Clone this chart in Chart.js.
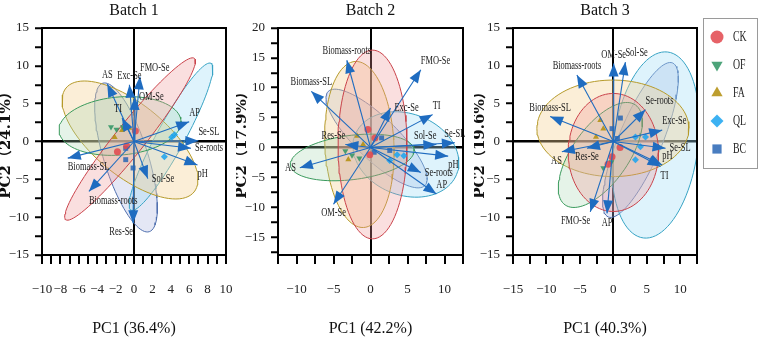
<!DOCTYPE html>
<html>
<head>
<meta charset="utf-8">
<script src="https://cdn.jsdelivr.net/npm/chart.js@4.4.1/dist/chart.umd.min.js"></script>
<style>
  body { margin: 0; background: #fff; }
  .wrap { position: relative; width: 760px; height: 338px; overflow: hidden; }
  canvas { position: absolute; top: 0; }
</style>
</head>
<body>
<div class="wrap">
  <canvas id="batch1" width="240" height="338" style="left:0px"></canvas>
  <canvas id="batch2" width="241" height="338" style="left:236px"></canvas>
  <canvas id="batch3" width="286" height="338" style="left:474px"></canvas>
</div>
<script>
const groups = ['CK', 'OF', 'FA', 'QL', 'BC'];

// Batch 1 - loadings (arrow tips)
const b1Vars = ['FMO-Se', 'Exc-Se', 'AS', 'OM-Se', 'TI', 'AP', 'Se-SL', 'Se-roots', 'pH', 'Sol-Se', 'Biomass-SL', 'Biomass-roots', 'Res-Se'];
const b1VarX = [0.65, -0.5, -2.9, 0.1, -1.3, 6.0, 7.0, 6.2, 6.9, 1.5, -7.2, -4.9, -0.1];
const b1VarY = [8.6, 7.5, 7.6, 5.9, 3.1, 2.6, 0.1, -0.9, -3.1, -4.9, -2.2, -6.6, -10.8];
const b1LabelPos = ['ne', 'n', 'n', 'e', 'nw', 'ne', 'ne', 'e', 'se', 'e', 'se', 'se', 'sw'];
// Batch 1 - sample scores, one list per group (CK, OF, FA, QL, BC)
const b1Scores = [
  [[0.15, 1.4], [-1.8, -1.35], [-0.8, -0.6]],
  [[-2.5, 1.9], [-1.9, 1.6], [-1.2, 1.9]],
  [[-1.3, 1.5], [-2.1, 0.55], [-0.5, 1.8]],
  [[4.4, 0.9], [4.1, 0.55], [3.3, -2.0]],
  [[-0.9, -0.9], [-0.9, -2.4], [-0.1, -3.5]]
];
// Batch 1 - group ellipses: centre x, centre y, half axis u (x, y), half axis v (x, y)
const b1Ellipses = [
  [-0.43, 0.33, 6.99, 10.66, 1.27, -1.23],
  [-1.52, 2.05, 6.63, 0.66, 0.22, -3.83],
  [-0.43, 0.2, 6.96, -6.87, 2.47, 3.69],
  [4.02, 0.63, 4.35, 9.70, 1.34, -0.89],
  [-0.87, -2.11, -2.53, 9.81, 2.28, 0.87]
];

// Batch 2
const b2Vars = ['Biomass-roots', 'Biomass-SL', 'FMO-Se', 'Exc-Se', 'TI', 'Sol-Se', 'Se-SL', 'pH', 'Se-roots', 'AP', 'AS', 'OM-Se', 'Res-Se'];
const b2VarX = [-3.2, -8.0, 6.8, 2.7, 8.4, 8.9, 11.4, 10.5, 6.8, 8.9, -9.55, -5.0, -3.4];
const b2VarY = [14.6, 9.4, 13.0, 6.6, 5.5, 0.5, 0.8, -1.45, -4.2, -7.8, -3.4, -9.5, 0.5];
const b2LabelPos = ['n', 'n', 'ne', 'e', 'ne', 'nw', 'n', 'se', 'e', 'ne', 'w', 's', 'nw'];
const b2Scores = [
  [[-0.35, 3.0], [0.6, 1.6], [-0.1, -1.2]],
  [[-2.5, -1.3], [-3.4, -0.6], [-1.5, -1.8]],
  [[-1.8, 1.9], [-3.0, -2.0], [-1.0, 0.5]],
  [[3.6, -1.2], [4.5, -1.4], [2.6, -2.2]],
  [[1.5, 1.6], [2.6, -0.5], [0.5, -0.8]]
];
const b2Ellipses = [
  [0.27, 0.5, 0, 15.8, 4.66, 0],
  [-2.47, -1.67, 8.36, 1.33, 0.41, -3.67],
  [-1.5, 0.5, -0.55, 13.9, 4.66, 0.27],
  [4.79, -1.17, 6.85, -3.33, -2.05, -6.33],
  [0.82, 1.5, -6.53, 7.88, 2.03, 2.48]
];

// Batch 3
const b3Vars = ['OM-Se', 'Sol-Se', 'Biomass-roots', 'Biomass-SL', 'Se-roots', 'Exc-Se', 'Se-SL', 'pH', 'TI', 'AS', 'Res-Se', 'FMO-Se', 'AP'];
const b3VarX = [0.05, 1.8, -5.45, -9.45, 4.8, 7.3, 7.8, 7.3, 7.05, -7.7, -3.95, -3.45, -0.95];
const b3VarY = [10.3, 10.5, 8.8, 3.3, 4.2, 1.5, -0.9, -3.1, -3.3, -1.35, -0.9, -9.3, -9.5];
const b3LabelPos = ['n', 'ne', 'n', 'n', 'ne', 'ne', 'e', 'ne', 'se', 'sw', 's', 'sw', 's'];
const b3Scores = [
  [[-0.2, -2.0], [-0.8, -3.0], [1.0, -0.8]],
  [[-2.5, -0.5], [-1.5, -3.5], [-0.3, -2.7]],
  [[-1.95, 2.8], [-1.5, 1.7], [-2.6, 0.6]],
  [[3.3, 0.6], [4.8, 0.6], [4.05, -0.7], [3.3, -2.4]],
  [[1.05, 3.1], [-0.2, 1.7], [0.6, 0.4]]
];
const b3Ellipses = [
  [0, -1.45, 6.75, 0, 0, -7.8],
  [-1.95, -1.78, 5.25, 6.61, 3.45, -2.11],
  [-0.07, 1.74, 11.36, 0, 0, -6.38],
  [6.3, -0.46, 1.8, 12.29, 6.3, -0.66],
  [4.05, 0.2, 4.8, 10.18, 3.0, -1.11]
];

const markerColors = ['rgba(226,70,76,0.85)', 'rgba(46,148,99,0.85)', 'rgba(178,141,11,0.85)', 'rgba(26,163,240,0.85)', 'rgba(41,102,181,0.85)'];
const ellipseLines = ['#c9424a', '#3a9a5c', '#b59a2a', '#37a3c4', '#4f6fae'];
const ellipseFills = ['rgba(240,150,150,0.3)', 'rgba(170,215,180,0.3)', 'rgba(245,210,150,0.38)', 'rgba(160,220,245,0.35)', 'rgba(170,180,225,0.32)'];
const pointStyles = ['circle', 'triangle', 'triangle', 'rectRot', 'rect'];
const pointRot = [0, 180, 0, 0, 0];
const arrowColor = '#1f6cc0';
const serif = '"Liberation Serif", "Times New Roman", serif';
const squeeze = 0.7; // the source figure's lettering is horizontally condensed

function ellipsePoints(e) {
  const pts = [];
  for (let k = 0; k <= 90; k++) {
    const t = k / 90 * 2 * Math.PI;
    pts.push({ x: e[0] + e[2] * Math.cos(t) + e[4] * Math.sin(t), y: e[1] + e[3] * Math.cos(t) + e[5] * Math.sin(t) });
  }
  return pts;
}

function tickText(every) {
  return v => {
    if (Math.abs(v / every - Math.round(v / every)) > 1e-6) return '';
    return v < 0 ? '\u2212' + Math.abs(v) : String(v);
  };
}

function gridOpts(len, zeroWidth) {
  return {
    color: c => (c.tick && c.tick.value === 0 ? '#000' : 'rgba(0,0,0,0)'),
    lineWidth: zeroWidth,
    drawTicks: true,
    tickLength: len,
    tickColor: '#000',
    tickWidth: 2
  };
}

function narrowText(ctx, text, x, y) {
  ctx.save();
  ctx.translate(x, y);
  ctx.scale(squeeze, 1);
  ctx.fillText(text, 0, 0);
  ctx.restore();
}

function overlay(opt) {
  return {
    id: 'overlay',
    afterDatasetsDraw(chart) {
      const { ctx, chartArea: a, scales: { x, y } } = chart;
      ctx.save();
      ctx.strokeStyle = '#000';
      ctx.lineWidth = 2;
      ctx.beginPath();
      ctx.moveTo(a.left, a.top);
      ctx.lineTo(a.right, a.top);
      ctx.lineTo(a.right, a.bottom);
      ctx.stroke();

      const ox = x.getPixelForValue(0), oy = y.getPixelForValue(0);
      ctx.fillStyle = arrowColor;
      opt.vars.forEach((name, i) => {
        const tx = x.getPixelForValue(opt.vx[i]), ty = y.getPixelForValue(opt.vy[i]);
        const len = Math.hypot(tx - ox, ty - oy);
        const dx = (tx - ox) / len, dy = (ty - oy) / len;
        ctx.beginPath();
        ctx.moveTo(tx, ty);
        ctx.lineTo(tx - dx * 13 - dy * 5, ty - dy * 13 + dx * 5);
        ctx.lineTo(tx - dx * 13 + dy * 5, ty - dy * 13 - dx * 5);
        ctx.closePath();
        ctx.fill();
      });

      ctx.fillStyle = '#1a1a1a';
      ctx.font = '12px ' + serif;
      opt.vars.forEach((name, i) => {
        let lx = x.getPixelForValue(opt.vx[i]), ly = y.getPixelForValue(opt.vy[i]);
        const pos = opt.labelPos[i];
        ctx.textAlign = pos.includes('e') ? 'left' : pos.includes('w') ? 'right' : 'center';
        ctx.textBaseline = pos.includes('n') ? 'bottom' : pos.includes('s') ? 'top' : 'middle';
        if (pos === 'e') lx += 4;
        if (pos === 'w') lx -= 4;
        if (pos.includes('n')) ly -= 3;
        if (pos.includes('s')) ly += 3;
        narrowText(ctx, name, lx, ly);
      });

      if (opt.legend) {
        ctx.strokeStyle = '#9a9a9a';
        ctx.lineWidth = 1;
        ctx.strokeRect(229.5, 18.5, 54, 150);
        groups.forEach((g, k) => {
          const cy = 37 + k * 28;
          ctx.fillStyle = markerColors[k];
          Chart.helpers.drawPoint(ctx, { pointStyle: pointStyles[k], rotation: pointRot[k], radius: 6.5, borderWidth: 0 }, 243, cy);
          ctx.fillStyle = '#222';
          ctx.font = '14px ' + serif;
          ctx.textAlign = 'left';
          ctx.textBaseline = 'middle';
          narrowText(ctx, g, 259, cy);
        });
      }
      ctx.restore();
    }
  };
}

function drawBiplot(opt) {
  const datasets = [];
  opt.vars.forEach((name, i) => {
    datasets.push({
      label: name,
      data: [{ x: 0, y: 0 }, { x: opt.vx[i], y: opt.vy[i] }],
      showLine: true, borderColor: arrowColor, borderWidth: 1.1, pointRadius: 0, order: 0
    });
  });
  groups.forEach((g, k) => {
    datasets.push({
      label: g,
      data: opt.scores[k].map(p => ({ x: p[0], y: p[1] })),
      pointStyle: pointStyles[k], pointRotation: pointRot[k], pointRadius: 3.5,
      backgroundColor: markerColors[k], borderWidth: 0, order: 1
    });
  });
  groups.forEach((g, k) => {
    datasets.push({
      label: g + ' ellipse',
      data: ellipsePoints(opt.ellipses[k]),
      showLine: true, fill: 'shape', tension: 0, pointRadius: 0,
      borderColor: ellipseLines[k], borderWidth: 1, backgroundColor: ellipseFills[k], order: 2
    });
  });

  new Chart(document.getElementById(opt.id), {
    type: 'scatter',
    data: { datasets },
    options: {
      responsive: false,
      animation: false,
      events: [],
      layout: { padding: { left: 0, right: opt.padRight, top: 0, bottom: 0 } },
      plugins: {
        legend: { display: false },
        tooltip: { enabled: false },
        title: {
          display: true, text: opt.title, fullSize: false, color: '#111',
          font: { family: serif, size: 16, weight: 'normal', lineHeight: 1.2 },
          padding: { top: 1, bottom: 7.8 }
        }
      },
      scales: {
        x: {
          type: 'linear', min: opt.xMin, max: opt.xMax,
          afterFit: s => { s.height = 83; s.paddingLeft = 0; s.paddingRight = 0; },
          border: { display: true, color: '#000', width: 2 },
          grid: gridOpts(9, 2),
          ticks: {
            stepSize: opt.xStep, autoSkip: false, maxRotation: 0, includeBounds: false,
            callback: tickText(opt.xLabelEvery), color: '#222', padding: 18,
            font: { family: serif, size: 13 }
          },
          title: {
            display: true, text: opt.xTitle, color: '#111', padding: 0,
            font: { family: serif, size: 16 }
          }
        },
        y: {
          type: 'linear', min: opt.yMin, max: opt.yMax,
          afterFit: s => { s.width = opt.yWidth; s.paddingTop = 0; s.paddingBottom = 0; },
          border: { display: true, color: '#000', width: 2 },
          grid: gridOpts(7, 2.5),
          ticks: {
            stepSize: 2.5, autoSkip: false, includeBounds: false,
            callback: tickText(5), color: '#222', padding: 6,
            font: { family: serif, size: 13 }
          },
          title: {
            display: true, text: opt.yTitle, color: '#111', padding: 0,
            font: { family: '"DejaVu Serif", "Noto Sans CJK SC", serif', size: 15, weight: 'bold', lineHeight: 0.8 }
          }
        }
      }
    },
    plugins: [overlay(opt)]
  });
}

drawBiplot({
  id: 'batch1', title: 'Batch 1', xTitle: 'PC1 (36.4%)', yTitle: 'PC2\uff0824.1%\uff09',
  vars: b1Vars, vx: b1VarX, vy: b1VarY, labelPos: b1LabelPos, scores: b1Scores, ellipses: b1Ellipses,
  xMin: -10, xMax: 10, xStep: 1, xLabelEvery: 2, yMin: -15, yMax: 15,
  yWidth: 42, padRight: 14
});
drawBiplot({
  id: 'batch2', title: 'Batch 2', xTitle: 'PC1 (42.2%)', yTitle: 'PC2\uff0817.9%\uff09',
  vars: b2Vars, vx: b2VarX, vy: b2VarY, labelPos: b2LabelPos, scores: b2Scores, ellipses: b2Ellipses,
  xMin: -12.5, xMax: 12.5, xStep: 2.5, xLabelEvery: 5, yMin: -18, yMax: 20,
  yWidth: 42, padRight: 14
});
drawBiplot({
  id: 'batch3', title: 'Batch 3', xTitle: 'PC1 (40.3%)', yTitle: 'PC2\uff0819.6%\uff09',
  vars: b3Vars, vx: b3VarX, vy: b3VarY, labelPos: b3LabelPos, scores: b3Scores, ellipses: b3Ellipses,
  xMin: -15, xMax: 12.5, xStep: 2.5, xLabelEvery: 5, yMin: -15, yMax: 15,
  yWidth: 39, padRight: 63, legend: true
});
</script>
</body>
</html>
